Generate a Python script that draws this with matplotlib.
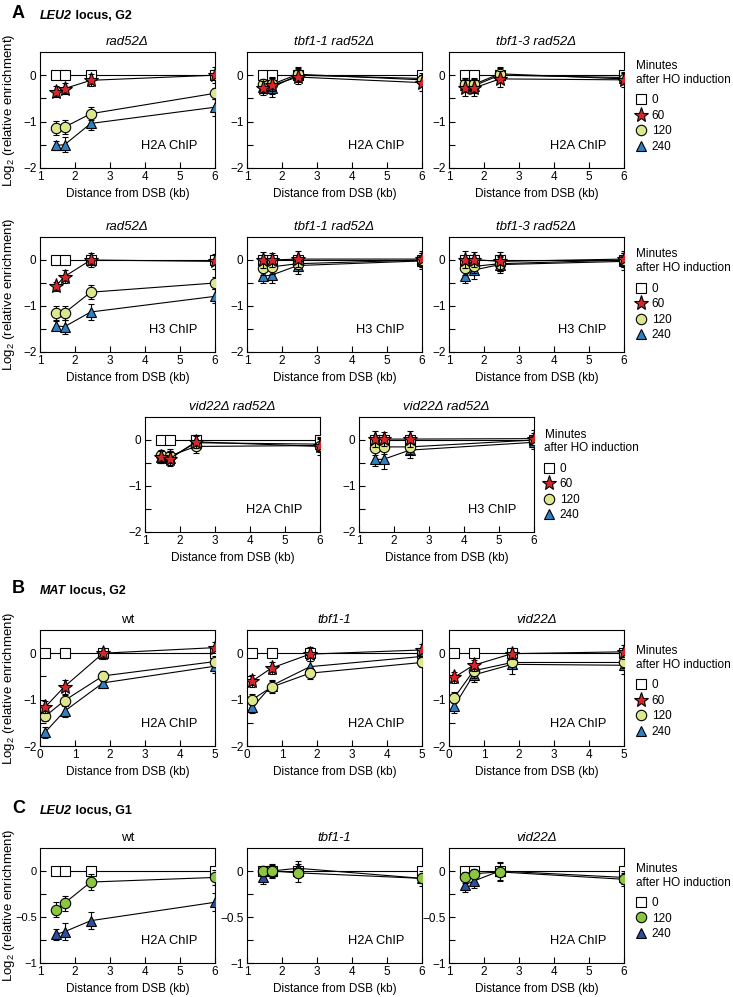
import matplotlib
matplotlib.use("Agg")
import matplotlib.pyplot as plt
from matplotlib.lines import Line2D

plt.rcParams['font.family'] = ['Liberation Sans', 'DejaVu Sans']
plt.rcParams['mathtext.fontset'] = 'custom'
plt.rcParams['mathtext.rm'] = 'Liberation Sans'
plt.rcParams['axes.unicode_minus'] = True

#### data (log2 relative enrichment)
leu2_dist = [1.45, 1.7, 2.45, 6.0]
mat_dist = [0.15, 0.7, 1.8, 5.0]
ref_zero = [0.0, 0.0, 0.0, 0.0]

# A - LEU2 locus, G2
rad52_h2a = {60: [-0.36, -0.29, -0.11, 0.0], 120: [-1.13, -1.12, -0.83, -0.39], 240: [-1.51, -1.5, -1.04, -0.69]}
rad52_h2a_sd = {60: [0.12, 0.12, 0.13, 0.17], 120: [0.15, 0.15, 0.14, 0.12], 240: [0.1, 0.16, 0.15, 0.18]}
tbf11_rad52_h2a = {60: [-0.27, -0.22, -0.04, -0.16], 120: [-0.2, -0.2, 0.02, -0.1], 240: [-0.25, -0.27, 0.0, -0.07]}
tbf11_rad52_h2a_sd = {60: [0.15, 0.18, 0.15, 0.17], 120: [0.12, 0.14, 0.15, 0.1], 240: [0.14, 0.2, 0.15, 0.12]}
tbf13_rad52_h2a = {60: [-0.28, -0.28, -0.08, -0.1], 120: [-0.2, -0.2, 0.03, -0.08], 240: [-0.22, -0.23, 0.0, -0.05]}
tbf13_rad52_h2a_sd = {60: [0.17, 0.17, 0.17, 0.15], 120: [0.14, 0.15, 0.15, 0.12], 240: [0.15, 0.15, 0.15, 0.12]}

rad52_h3 = {60: [-0.57, -0.36, 0.0, -0.03], 120: [-1.15, -1.15, -0.7, -0.5], 240: [-1.43, -1.45, -1.13, -0.79]}
rad52_h3_sd = {60: [0.1, 0.15, 0.15, 0.17], 120: [0.15, 0.15, 0.15, 0.12], 240: [0.1, 0.15, 0.17, 0.15]}
tbf11_rad52_h3 = {60: [0.0, 0.0, 0.02, 0.02], 120: [-0.17, -0.15, -0.08, 0.0], 240: [-0.35, -0.33, -0.12, -0.02]}
tbf11_rad52_h3_sd = {60: [0.18, 0.16, 0.18, 0.18], 120: [0.15, 0.15, 0.15, 0.15], 240: [0.15, 0.17, 0.18, 0.18]}
tbf13_rad52_h3 = {60: [0.01, 0.01, -0.03, 0.02], 120: [-0.18, -0.14, -0.08, 0.0], 240: [-0.35, -0.22, -0.1, -0.03]}
tbf13_rad52_h3_sd = {60: [0.18, 0.16, 0.2, 0.18], 120: [0.15, 0.15, 0.15, 0.15], 240: [0.15, 0.2, 0.18, 0.18]}

vid22_rad52_h2a = {60: [-0.37, -0.41, -0.04, -0.14], 120: [-0.33, -0.35, -0.14, -0.12], 240: [-0.38, -0.4, -0.06, -0.09]}
vid22_rad52_h2a_sd = {60: [0.12, 0.15, 0.14, 0.18], 120: [0.12, 0.15, 0.14, 0.15], 240: [0.12, 0.15, 0.14, 0.15]}
vid22_rad52_h3 = {60: [0.02, 0.02, 0.02, 0.03], 120: [-0.18, -0.15, -0.15, 0.0], 240: [-0.42, -0.42, -0.22, -0.05]}
vid22_rad52_h3_sd = {60: [0.17, 0.16, 0.18, 0.18], 120: [0.15, 0.15, 0.15, 0.15], 240: [0.15, 0.2, 0.18, 0.15]}

# B - MAT locus, G2
wt_mat = {60: [-1.16, -0.72, 0.0, 0.12], 120: [-1.36, -1.02, -0.49, -0.18], 240: [-1.7, -1.25, -0.64, -0.28]}
wt_mat_sd = {60: [0.12, 0.15, 0.12, 0.12], 120: [0.1, 0.12, 0.1, 0.12], 240: [0.12, 0.12, 0.12, 0.15]}
tbf11_mat = {60: [-0.6, -0.32, -0.02, 0.07], 120: [-1.0, -0.73, -0.43, -0.2], 240: [-1.17, -0.7, -0.29, -0.07]}
tbf11_mat_sd = {60: [0.13, 0.12, 0.15, 0.12], 120: [0.12, 0.13, 0.12, 0.1], 240: [0.12, 0.12, 0.12, 0.12]}
vid22_mat = {60: [-0.52, -0.26, -0.01, 0.03], 120: [-0.96, -0.38, -0.2, -0.2], 240: [-1.14, -0.47, -0.24, -0.26]}
vid22_mat_sd = {60: [0.12, 0.12, 0.12, 0.15], 120: [0.12, 0.15, 0.15, 0.12], 240: [0.15, 0.15, 0.2, 0.18]}

# C - LEU2 locus, G1
wt_g1 = {120: [-0.42, -0.35, -0.12, -0.07], 240: [-0.69, -0.66, -0.54, -0.34]}
wt_g1_sd = {120: [0.08, 0.08, 0.09, 0.08], 240: [0.06, 0.09, 0.09, 0.1]}
tbf11_g1 = {120: [0.0, 0.0, -0.02, -0.08], 240: [-0.06, 0.0, 0.03, -0.08]}
tbf11_g1_sd = {120: [0.05, 0.08, 0.1, 0.05], 240: [0.08, 0.06, 0.08, 0.08]}
vid22_g1 = {120: [-0.07, -0.03, -0.01, -0.09], 240: [-0.15, -0.11, 0.0, -0.07]}
vid22_g1_sd = {120: [0.06, 0.05, 0.1, 0.07], 240: [0.08, 0.08, 0.1, 0.07]}

#### styles
W, H = 733, 997
fig = plt.figure(figsize=(W / 100, H / 100), dpi=100)

style_g2 = {0: ('s', 'white', 7), 60: ('*', '#d7262b', 11), 120: ('o', '#dde78c', 7.5), 240: ('^', '#2f7fc1', 7.5)}
style_g1 = {0: ('s', 'white', 7), 120: ('o', '#8cc540', 7.5), 240: ('^', '#2b4f9e', 7.5)}


def px_axes(left, top, w=175, h=116):
    return fig.add_axes([left / W, 1 - (top + h) / H, w / W, h / H])


def panel(ax, x, vals, sds, title, chip, styles, g1=False, mat=False, italic=True):
    mk, fc, ms = styles[0]
    ax.plot(x, ref_zero, color='black', lw=0.8, marker=mk, mfc=fc, mec='black',
            ms=ms, mew=0.8, zorder=3)
    z = 4
    for t in sorted(vals.keys(), reverse=True):
        mk, fc, ms = styles[t]
        ax.errorbar(x, vals[t], yerr=sds[t], color='black', lw=0.8, elinewidth=0.8,
                    capsize=2, capthick=0.8, marker=mk, mfc=fc, mec='black',
                    ms=ms, mew=0.8, zorder=z)
        z += 1
    if mat:
        ax.set_xlim(0, 5)
        ax.set_xticks(range(0, 6))
    else:
        ax.set_xlim(1, 6)
        ax.set_xticks(range(1, 7))
    if g1:
        ax.set_ylim(-1, 0.25)
        ax.set_yticks([-1, -0.5, 0])
        ax.set_yticklabels(['\u22121', '\u22120.5', '0'])
        ax.set_yticks([-0.75, -0.25], minor=True)
    else:
        ax.set_ylim(-2, 0.5)
        ax.set_yticks([-2, -1, 0])
        ax.set_yticklabels(['\u22122', '\u22121', '0'])
        ax.set_yticks([-1.5, -0.5], minor=True)
    ax.tick_params(direction='in', length=4, width=0.8, labelsize=8.5, pad=2.5)
    ax.tick_params(which='minor', direction='in', length=4, width=0.8)
    for s in ax.spines.values():
        s.set_linewidth(0.8)
    ax.set_title(title, fontsize=9.5, style='italic' if italic else 'normal', pad=5)
    ax.set_xlabel('Distance from DSB (kb)', fontsize=8.5, labelpad=3)
    ax.text(0.9, 0.19, chip, transform=ax.transAxes, ha='right', va='center', fontsize=9.3)


def legend(ax, x, y, styles):
    handles = []
    for t in styles:
        mk, fc, ms = styles[t]
        handles.append(Line2D([], [], linestyle='none', marker=mk, mfc=fc, mec='black', ms=ms, mew=0.8))
    lg = ax.legend(handles, [str(t) for t in styles], title='Minutes\nafter HO induction',
                   loc='upper left', bbox_to_anchor=(x, y), frameon=False, fontsize=8.5,
                   title_fontsize=8.5, alignment='left', handlelength=0.8,
                   handletextpad=0.5, labelspacing=0.3, borderpad=0, borderaxespad=0)
    lg._legend_box.sep = 6


def ylab(top, h=116):
    fig.text(9 / W, 1 - (top + h / 2) / H, 'Log$_2$ (relative enrichment)', rotation=90,
             ha='center', va='center', fontsize=9.5)


def header(ax, letter, italic, rest, y):
    fig.text(12 / W, 1 - y / H, letter, fontsize=13, fontweight='bold', va='bottom')
    t = fig.text(40 / W, 1 - y / H, italic, fontsize=9, fontweight='bold', style='italic', va='bottom')
    ax.annotate(rest, xy=(1, 0), xycoords=t, va='bottom', fontsize=9, fontweight='bold',
                annotation_clip=False)


#### panel A
lefts = [40, 247, 449]
d = 'Δ'
row1 = [(rad52_h2a, rad52_h2a_sd, 'rad52' + d), (tbf11_rad52_h2a, tbf11_rad52_h2a_sd, 'tbf1-1 rad52' + d),
        (tbf13_rad52_h2a, tbf13_rad52_h2a_sd, 'tbf1-3 rad52' + d)]
axes1 = []
for l, (v, s, ttl) in zip(lefts, row1):
    ax = px_axes(l, 52)
    panel(ax, leu2_dist, v, s, ttl, 'H2A ChIP', style_g2)
    axes1.append(ax)
legend(axes1[2], 1.07, 0.93, style_g2)
ylab(52)
header(axes1[0], 'A', 'LEU2', ' locus, G2', 22)

row2 = [(rad52_h3, rad52_h3_sd, 'rad52' + d), (tbf11_rad52_h3, tbf11_rad52_h3_sd, 'tbf1-1 rad52' + d),
        (tbf13_rad52_h3, tbf13_rad52_h3_sd, 'tbf1-3 rad52' + d)]
axes2 = []
for l, (v, s, ttl) in zip(lefts, row2):
    ax = px_axes(l, 237, h=115)
    panel(ax, leu2_dist, v, s, ttl, 'H3 ChIP', style_g2)
    axes2.append(ax)
legend(axes2[2], 1.07, 0.9, style_g2)
ylab(237, 115)

ax = px_axes(145, 417, h=115)
panel(ax, leu2_dist, vid22_rad52_h2a, vid22_rad52_h2a_sd, 'vid22' + d + ' rad52' + d, 'H2A ChIP', style_g2)
ax = px_axes(359, 417, h=115)
panel(ax, leu2_dist, vid22_rad52_h3, vid22_rad52_h3_sd, 'vid22' + d + ' rad52' + d, 'H3 ChIP', style_g2)
legend(ax, 1.06, 0.9, style_g2)

#### panel B
rowb = [(wt_mat, wt_mat_sd, 'wt', False), (tbf11_mat, tbf11_mat_sd, 'tbf1-1', True),
        (vid22_mat, vid22_mat_sd, 'vid22' + d, True)]
axesb = []
for l, (v, s, ttl, it) in zip(lefts, rowb):
    ax = px_axes(l, 630)
    panel(ax, mat_dist, v, s, ttl, 'H2A ChIP', style_g2, mat=True, italic=it)
    axesb.append(ax)
legend(axesb[2], 1.07, 0.87, style_g2)
ylab(630)
header(axesb[0], 'B', 'MAT', ' locus, G2', 597)

#### panel C
rowc = [(wt_g1, wt_g1_sd, 'wt', False), (tbf11_g1, tbf11_g1_sd, 'tbf1-1', True),
        (vid22_g1, vid22_g1_sd, 'vid22' + d, True)]
axesc = []
for l, (v, s, ttl, it) in zip(lefts, rowc):
    ax = px_axes(l, 848, h=115)
    panel(ax, leu2_dist, v, s, ttl, 'H2A ChIP', style_g1, g1=True, italic=it)
    axesc.append(ax)
    if l == lefts[0]:
        ax.tick_params(axis='y', labelsize=8, pad=2)
legend(axesc[2], 1.07, 0.87, style_g1)
ylab(848, 115)
header(axesc[0], 'C', 'LEU2', ' locus, G1', 817)

fig.savefig('out.png', dpi=100)
